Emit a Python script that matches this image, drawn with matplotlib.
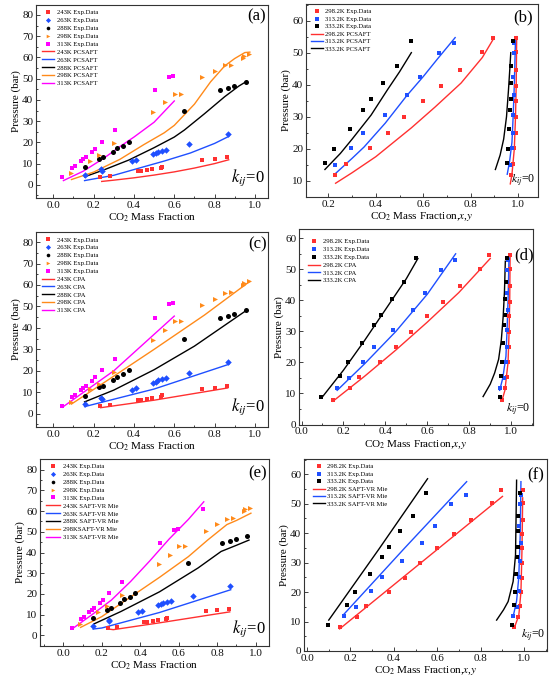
import matplotlib
matplotlib.use('Agg')
import matplotlib.pyplot as plt
from matplotlib.lines import Line2D
from matplotlib.ticker import MultipleLocator, FormatStrFormatter

plt.rcParams['font.family'] = ['Liberation Serif', 'DejaVu Serif']
plt.rcParams['mathtext.fontset'] = 'stix'

# ---------------- left panels: experimental data (mass fraction, bar)
x243 = [0.233, 0.280, 0.420, 0.433, 0.467, 0.490, 0.533, 0.537, 0.740, 0.800, 0.860]
p243 = [3.6, 4.1, 6.3, 6.6, 7.0, 7.3, 7.9, 8.5, 11.6, 12.2, 12.9]
x263 = [0.155, 0.238, 0.240, 0.388, 0.408, 0.492, 0.510, 0.518, 0.538, 0.558, 0.675, 0.868]
p263 = [4.6, 7.4, 6.7, 11.0, 11.9, 14.4, 15.0, 15.5, 16.1, 16.6, 19.0, 23.9]
x288 = [0.155, 0.228, 0.247, 0.295, 0.318, 0.347, 0.373, 0.647, 0.825, 0.865, 0.895, 0.955]
p288 = [8.3, 12.3, 13.0, 15.7, 17.3, 18.5, 20.2, 35.0, 44.5, 45.6, 46.6, 48.2]
x298 = [0.088, 0.180, 0.225, 0.303, 0.495, 0.553, 0.602, 0.635, 0.740, 0.800, 0.850, 0.880, 0.940, 0.945, 0.970]
p298 = [5.6, 11.3, 14.0, 19.5, 34.2, 39.0, 43.0, 43.0, 50.6, 53.6, 56.4, 56.6, 59.9, 60.8, 61.7]
x313 = [0.045, 0.093, 0.108, 0.135, 0.148, 0.160, 0.190, 0.205, 0.240, 0.305, 0.505, 0.575, 0.595]
p313 = [3.5, 7.8, 8.8, 11.1, 12.0, 13.1, 15.4, 17.0, 20.3, 25.7, 44.8, 51.0, 51.4]
x313_e_extra = [0.725]
p313_e_extra = [61.0]

# ---------------- left panels: model curves
# PC-SAFT (a)
pc243_x = [0.24, 0.30, 0.40, 0.50, 0.60, 0.70, 0.80, 0.87]
pc243_p = [1.6, 2.2, 3.3, 4.6, 6.1, 7.9, 10.0, 11.8]
pc263_x = [0.155, 0.30, 0.43, 0.55, 0.68, 0.80, 0.87]
pc263_p = [2.0, 4.5, 8.0, 11.2, 15.0, 19.5, 22.8]
pc288_x = [0.155, 0.25, 0.375, 0.50, 0.60, 0.65, 0.75, 0.85, 0.92, 0.96]
pc288_p = [3.8, 7.0, 11.7, 17.5, 22.5, 25.8, 33.5, 41.5, 46.5, 48.8]
pc298_x = [0.09, 0.20, 0.33, 0.45, 0.55, 0.60, 0.70, 0.78, 0.85, 0.90, 0.95, 0.975]
pc298_p = [2.5, 6.0, 12.0, 19.0, 24.5, 28.0, 38.0, 48.5, 56.0, 59.5, 62.3, 62.5]
pc313_x = [0.05, 0.15, 0.25, 0.33, 0.40, 0.50, 0.55, 0.60]
pc313_p = [2.0, 6.5, 12.5, 18.0, 22.5, 29.5, 34.5, 39.5]
# CPA (c)
cpa243_x = [0.235, 0.50, 0.865]
cpa243_p = [2.8, 6.3, 12.0]
cpa263_x = [0.155, 0.50, 0.87]
cpa263_p = [3.3, 11.5, 23.0]
cpa288_x = [0.155, 0.30, 0.50, 0.70, 0.96]
cpa288_p = [5.5, 11.0, 20.5, 31.5, 48.3]
cpa298_x = [0.09, 0.30, 0.50, 0.75, 0.975]
cpa298_p = [4.5, 17.5, 30.0, 46.0, 61.7]
cpa313_x = [0.045, 0.30, 0.60]
cpa313_p = [3.0, 20.0, 45.5]
# SAFT-VR Mie (e)
vr243_x = [0.235, 0.26, 0.50, 0.865]
vr243_p = [3.0, 2.7, 6.0, 11.3]
vr263_x = [0.155, 0.20, 0.50, 0.87]
vr263_p = [3.0, 3.5, 11.0, 22.0]
vr288_x = [0.16, 0.30, 0.50, 0.70, 0.82, 0.90, 0.965]
vr288_p = [5.5, 11.5, 21.0, 32.5, 40.5, 43.5, 46.0]
vr298_x = [0.09, 0.20, 0.35, 0.50, 0.65, 0.75, 0.85, 0.90, 0.975]
vr298_p = [3.8, 9.0, 18.5, 28.0, 38.0, 46.0, 53.5, 55.5, 59.0]
vr313_x = [0.045, 0.15, 0.25, 0.35, 0.45, 0.55, 0.65, 0.73]
vr313_p = [3.0, 10.0, 17.0, 26.0, 36.0, 46.5, 56.0, 64.5]

# ---------------- right panels: experimental data (liquid x, vapour y)
P2982 = [8.0, 11.7, 15.2, 20.2, 24.9, 29.8, 35.0, 39.6, 44.6, 50.1, 54.7]
x2982 = [0.150, 0.229, 0.273, 0.376, 0.453, 0.520, 0.600, 0.677, 0.757, 0.850, 0.895]
y2982 = [0.955, 0.972, 0.980, 0.985, 0.990, 0.990, 0.991, 0.992, 0.993, 0.993, 0.993]
P3132 = [11.8, 14.9, 20.3, 25.0, 30.4, 36.8, 42.5, 49.9, 53.1]
x3132 = [0.170, 0.226, 0.294, 0.346, 0.437, 0.530, 0.587, 0.665, 0.732]
y3132 = [0.948, 0.968, 0.975, 0.978, 0.980, 0.983, 0.978, 0.982, 0.985]
P3332 = [8.8, 15.6, 20.0, 26.3, 32.0, 35.4, 40.6, 45.9, 53.6]
x3332 = [0.095, 0.185, 0.223, 0.289, 0.344, 0.379, 0.430, 0.490, 0.548]
y3332 = [0.945, 0.952, 0.958, 0.962, 0.965, 0.972, 0.972, 0.973, 0.980]

# ---------------- right panels: model curves (liquid and vapour branches)
b298_lx = [0.23, 0.30, 0.40, 0.45, 0.55, 0.65, 0.76, 0.85, 0.90]
b298_lp = [9.2, 12.5, 17.5, 20.5, 26.5, 33.0, 40.5, 48.5, 54.7]
b313_lx = [0.226, 0.30, 0.35, 0.44, 0.53, 0.60, 0.66, 0.735]
b313_lp = [12.0, 17.0, 20.5, 28.0, 36.5, 42.5, 48.0, 54.7]
b333_lx = [0.185, 0.25, 0.30, 0.38, 0.45, 0.50, 0.55]
b333_lp = [13.5, 18.5, 23.0, 30.5, 38.5, 44.0, 50.0]
b298_vx = [0.968, 0.975, 0.985, 0.990, 0.993, 0.995]
b298_vp = [9.0, 12.0, 20.0, 30.0, 40.0, 55.0]
b313_vx = [0.955, 0.965, 0.975, 0.980, 0.985, 0.990]
b313_vp = [12.0, 16.0, 22.0, 30.0, 40.0, 54.5]
b333_vx = [0.905, 0.925, 0.940, 0.952, 0.960, 0.966, 0.970]
b333_vp = [13.5, 18.0, 23.0, 30.0, 38.0, 45.0, 50.0]

d298_lx = [0.15, 0.30, 0.45, 0.60, 0.75, 0.90]
d298_lp = [7.5, 15.5, 24.0, 33.0, 42.5, 53.5]
d313_lx = [0.17, 0.30, 0.45, 0.60, 0.735]
d313_lp = [11.0, 19.5, 30.0, 42.0, 55.0]
d333_lx = [0.095, 0.20, 0.30, 0.40, 0.50, 0.555]
d333_lp = [8.5, 17.5, 27.0, 37.0, 47.0, 53.5]
d298_vx = [0.955, 0.970, 0.985, 0.990, 0.993, 0.995]
d298_vp = [7.5, 11.0, 20.0, 30.0, 40.0, 55.0]
d313_vx = [0.945, 0.960, 0.975, 0.980, 0.985, 0.990]
d313_vp = [11.0, 15.0, 22.0, 30.0, 40.0, 55.0]
d333_vx = [0.866, 0.900, 0.921, 0.940, 0.953, 0.962, 0.968, 0.972]
d333_vp = [9.0, 13.0, 16.6, 21.0, 27.3, 35.0, 43.0, 52.6]

f298_lx = [0.15, 0.40, 0.60, 0.90]
f298_lp = [7.5, 22.5, 34.5, 52.5]
f313_lx = [0.17, 0.45, 0.735]
f313_lp = [12.5, 35.0, 57.5]
f333_lx = [0.10, 0.33, 0.555]
f333_lp = [10.5, 34.5, 58.5]
f298_vx = [0.955, 0.975, 0.985, 0.990, 0.993]
f298_vp = [8.0, 12.0, 20.0, 35.0, 52.0]
f313_vx = [0.950, 0.965, 0.975, 0.982, 0.985]
f313_vp = [12.0, 17.0, 25.0, 40.0, 57.5]
f333_vx = [0.873, 0.905, 0.926, 0.949, 0.960, 0.965]
f333_vp = [10.5, 14.0, 16.8, 23.6, 32.6, 58.0]

# ---------------- styling
RED = '#FF3030'
BLUE = '#1F4FFF'
BLK = '#000000'
ORG = '#FF8A1A'
MAG = '#FF00FF'
temps_left = ['243K', '263K', '288K', '298K', '313K']
temps_right = ['298.2K', '313.2K', '333.2K']

W, H = 550, 683
fig = plt.figure(figsize=(W / 100, H / 100), dpi=100)


def add_ax(l, r, t, b):
    return fig.add_axes([l / W, 1 - b / H, (r - l) / W, (b - t) / H])


def style(ax, xlim, ylim, xmaj, ymaj, xlabel):
    ax.set_xlim(*xlim)
    ax.set_ylim(*ylim)
    ax.xaxis.set_major_locator(MultipleLocator(xmaj))
    ax.xaxis.set_minor_locator(MultipleLocator(xmaj / 2))
    ax.yaxis.set_major_locator(MultipleLocator(ymaj))
    ax.yaxis.set_minor_locator(MultipleLocator(ymaj / 2))
    ax.xaxis.set_major_formatter(FormatStrFormatter('%.1f'))
    ax.yaxis.set_major_formatter(FormatStrFormatter('%d'))
    ax.tick_params(which='both', direction='in', top=False, right=False,
                   labelsize=8, width=0.6, pad=2, colors='#222222', labelcolor='#111111')
    ax.tick_params(which='major', length=3)
    ax.tick_params(which='minor', length=1.6)
    for s in ax.spines.values():
        s.set_linewidth(0.8)
        s.set_color('#333333')
    ax.set_xlabel(xlabel, fontsize=8, labelpad=1)
    ax.set_ylabel('Pressure (bar)', fontsize=8, labelpad=1)


def left_panel(ax, lines, model, extra=False, hl=1.8):
    cols = [RED, BLUE, BLK, ORG, MAG]
    for (lx, lp), c in zip(lines, cols):
        ax.plot(lx, lp, color=c, lw=1.0, zorder=2)
    ax.scatter(x243, p243, marker='s', s=11, color=RED, lw=0, zorder=3)
    ax.scatter(x263, p263, marker='D', s=11, color=BLUE, lw=0, zorder=3)
    ax.scatter(x288, p288, marker='o', s=13, color=BLK, lw=0, zorder=3)
    ax.scatter(x298, p298, marker='>', s=13, color=ORG, lw=0, zorder=3)
    ax.scatter(x313, p313, marker='s', s=12, color=MAG, lw=0, zorder=3)
    if extra:
        ax.scatter(x313_e_extra, p313_e_extra, marker='s', s=12, color=MAG, lw=0, zorder=3)
    mk = ['s', 'D', 'o', '>', 's']
    handles = [Line2D([], [], ls='none', marker=m, ms=2.6, color=c, mew=0) for m, c in zip(mk, cols)]
    handles += [Line2D([], [], color=c, lw=1.0) for c in cols]
    labels = [t + ' Exp.Data' for t in temps_left] + [t + model for t in temps_left]
    if model == ' SAFT-VR Mie':
        labels[8] = '298KSAFT-VR Mie'
    ax.legend(handles, labels, loc='upper left', bbox_to_anchor=(0.025, 0.975), fontsize=4.8,
              frameon=False, handlelength=hl, handletextpad=0.45, labelspacing=0.33,
              borderpad=0, borderaxespad=0)
    style(ax, (-0.086, 1.065), (-6.2, 84.7), 0.2, 10, 'CO$_2$ Mass Fraction')
    return ax


def right_panel(ax, liq, vap, model, full=True):
    cols = [RED, BLUE, BLK]
    for (lx, lp), c in zip(liq, cols):
        ax.plot(lx, lp, color=c, lw=1.0, zorder=2)
    for (vx, vp), c in zip(vap, cols):
        ax.plot(vx, vp, color=c, lw=1.0, zorder=2)
    st = 0 if full else 1
    for P, xl, yv, c in [(P2982, x2982, y2982, RED), (P3132, x3132, y3132, BLUE), (P3332, x3332, y3332, BLK)]:
        ax.scatter(xl[st:], P[st:], marker='s', s=9, color=c, lw=0, zorder=3)
        ax.scatter(yv[st:], P[st:], marker='s', s=9, color=c, lw=0, zorder=3)
    handles = [Line2D([], [], ls='none', marker='s', ms=2.4, color=c, mew=0) for c in cols]
    handles += [Line2D([], [], color=c, lw=1.0) for c in cols]
    labels = [t + ' Exp.Data' for t in temps_right] + [t + model for t in temps_right]
    return handles, labels


# ---- (a)
axa = add_ax(36, 268, 5, 198)
left_panel(axa, [(pc243_x, pc243_p), (pc263_x, pc263_p), (pc288_x, pc288_p), (pc298_x, pc298_p), (pc313_x, pc313_p)], ' PCSAFT')
axa.text(0.95, 0.943, '(a)', transform=axa.transAxes, fontsize=12, ha='center', va='center')
axa.text(0.985, 0.05, '$k_{ij}$=0', transform=axa.transAxes, fontsize=12, ha='right', va='bottom')

# ---- (c)
axc = add_ax(36, 268, 232, 427)
left_panel(axc, [(cpa243_x, cpa243_p), (cpa263_x, cpa263_p), (cpa288_x, cpa288_p), (cpa298_x, cpa298_p), (cpa313_x, cpa313_p)], ' CPA')
axc.text(0.955, 0.936, '(c)', transform=axc.transAxes, fontsize=12, ha='center', va='center')
axc.text(0.985, 0.05, '$k_{ij}$=0', transform=axc.transAxes, fontsize=12, ha='right', va='bottom')

# ---- (e)
axe = add_ax(40, 269, 459, 646)
left_panel(axe, [(vr243_x, vr243_p), (vr263_x, vr263_p), (vr288_x, vr288_p), (vr298_x, vr298_p), (vr313_x, vr313_p)], ' SAFT-VR Mie', extra=True, hl=2.2)
axe.set_xlim(-0.121, 1.069)
axe.set_ylim(-5.2, 85.2)
axe.text(0.948, 0.922, '(e)', transform=axe.transAxes, fontsize=12, ha='center', va='center')
axe.text(0.985, 0.04, '$k_{ij}$=0', transform=axe.transAxes, fontsize=12, ha='right', va='bottom')

# ---- (b)
axb = add_ax(306, 538, 4, 197)
h, l = right_panel(axb, [(b298_lx, b298_lp), (b313_lx, b313_lp), (b333_lx, b333_lp)],
                   [(b298_vx, b298_vp), (b313_vx, b313_vp), (b333_vx, b333_vp)], ' PCSAFT', full=False)
axb.legend(h, l, loc='upper left', bbox_to_anchor=(0.02, 0.975), fontsize=4.8, frameon=False,
           handlelength=1.8, handletextpad=0.4, labelspacing=0.27, borderpad=0, borderaxespad=0)
style(axb, (0.105, 1.085), (4.9, 65.2), 0.2, 10, 'CO$_2$ Mass Fraction,$x$,$y$')
axb.text(0.937, 0.93, '(b)', transform=axb.transAxes, fontsize=12, ha='center', va='center')
axb.text(0.99, 0.04, '$k_{ij}$=0', transform=axb.transAxes, fontsize=8.5, ha='right', va='bottom')

# ---- (d)
axd = add_ax(299, 533, 229, 424.5)
h, l = right_panel(axd, [(d298_lx, d298_lp), (d313_lx, d313_lp), (d333_lx, d333_lp)],
                   [(d298_vx, d298_vp), (d313_vx, d313_vp), (d333_vx, d333_vp)], ' CPA')
axd.legend(h, l, loc='upper left', bbox_to_anchor=(0.038, 0.95), fontsize=4.8, frameon=False,
           handlelength=1.8, handletextpad=0.4, labelspacing=0.32, borderpad=0, borderaxespad=0)
style(axd, (-0.012, 1.104), (0, 63), 0.2, 10, 'CO$_2$ Mass Fraction,$x$,$y$')
axd.text(0.962, 0.867, '(d)', transform=axd.transAxes, fontsize=12, ha='center', va='center')
axd.text(0.99, 0.035, '$k_{ij}$=0', transform=axd.transAxes, fontsize=8.5, ha='right', va='bottom')

# ---- (f)
axf = add_ax(304, 547, 459, 651)
h, l = right_panel(axf, [(f298_lx, f298_lp), (f313_lx, f313_lp), (f333_lx, f333_lp)],
                   [(f298_vx, f298_vp), (f313_vx, f313_vp), (f333_vx, f333_vp)], ' SAFT-VR Mie')
axf.legend(h, l, loc='upper left', bbox_to_anchor=(0.036, 0.975), fontsize=4.8, frameon=False,
           handlelength=1.8, handletextpad=0.4, labelspacing=0.27, borderpad=0, borderaxespad=0)
style(axf, (-0.014, 1.105), (0, 65.2), 0.2, 10, 'CO$_2$ Mass Fraction,$x$,$y$')
axf.text(0.952, 0.917, '(f)', transform=axf.transAxes, fontsize=12, ha='center', va='center')
axf.text(0.995, 0.035, '$k_{ij}$=0', transform=axf.transAxes, fontsize=8.5, ha='right', va='bottom')

fig.savefig('out.png', dpi=100)
